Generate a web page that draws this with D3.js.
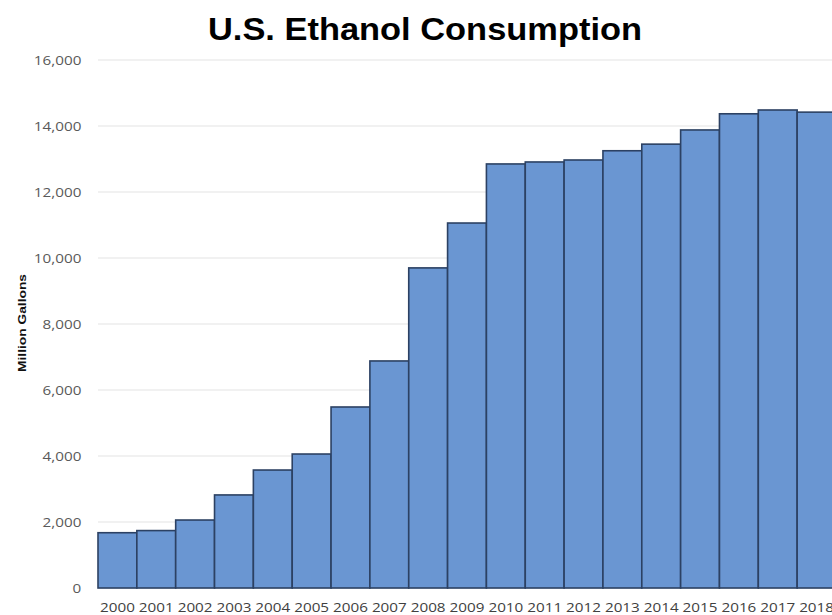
<!DOCTYPE html>
<html>
<head>
<meta charset="utf-8">
<script src="https://cdn.jsdelivr.net/npm/d3@7"></script>
<style>
  body { margin: 0; background: #fff; }
  svg { display: block; }
</style>
</head>
<body>
<div id="chart"></div>
<script>
// data
const years = ["2000", "2001", "2002", "2003", "2004", "2005", "2006", "2007", "2008", "2009",
  "2010", "2011", "2012", "2013", "2014", "2015", "2016", "2017", "2018"];
const consumption = [1675, 1740, 2060, 2820, 3575, 4060, 5485, 6880, 9700, 11060,
  12850, 12910, 12970, 13250, 13450, 13880, 14370, 14485, 14420];
const yTicks = [0, 2000, 4000, 6000, 8000, 10000, 12000, 14000, 16000];

const W = 832, H = 615;
const margin = { top: 60, right: -4, bottom: 27, left: 98 };
// the source picture is a little stretched sideways, so text is too
const stretch = 1.22;

const svg = d3.select("#chart").append("svg")
  .attr("width", W)
  .attr("height", H);

const x = d3.scaleBand()
  .domain(years)
  .range([margin.left, W - margin.right])
  .padding(0);

const y = d3.scaleLinear()
  .domain([0, 16000])
  .range([H - margin.bottom, margin.top]);

// gridlines
svg.append("g")
  .selectAll("line")
  .data(yTicks)
  .join("line")
    .attr("x1", margin.left)
    .attr("x2", W)
    .attr("y1", d => y(d))
    .attr("y2", d => y(d))
    .attr("stroke", "#e3e3e3")
    .attr("stroke-width", 1);

// y axis labels
const yAxis = svg.append("g")
  .attr("transform", `translate(${margin.left - 13},0)`)
  .call(d3.axisLeft(y).tickValues(yTicks).tickFormat(d3.format(",")).tickSize(0));
yAxis.select(".domain").remove();
yAxis.selectAll("text")
  .attr("transform", `scale(${stretch},1)`)
  .attr("font-family", "'Open Sans', 'Liberation Sans', sans-serif")
  .attr("font-size", 12.5)
  .attr("fill", "#595959");

// bars
svg.append("g")
  .selectAll("rect")
  .data(consumption)
  .join("rect")
    .attr("x", (d, i) => x(years[i]))
    .attr("y", d => y(d))
    .attr("width", x.bandwidth())
    .attr("height", d => y(0) - y(d))
    .attr("fill", "#6a96d2")
    .attr("stroke", "#2c4163")
    .attr("stroke-width", 1.6);

// x axis labels
const xAxis = svg.append("g")
  .attr("transform", `translate(0,${y(0) + 12})`)
  .call(d3.axisBottom(x).tickSize(0));
xAxis.select(".domain").remove();
xAxis.selectAll("text")
  .attr("transform", `scale(${stretch},1)`)
  .attr("font-family", "'Open Sans', 'Liberation Sans', sans-serif")
  .attr("font-size", 12.5)
  .attr("fill", "#404040");

// y axis title
svg.append("text")
  .attr("transform", `translate(26,323) rotate(-90)`)
  .attr("text-anchor", "middle")
  .attr("font-family", "'Liberation Sans', Arial, sans-serif")
  .attr("font-weight", "bold")
  .attr("font-size", 11)
  .attr("textLength", 98)
  .attr("lengthAdjust", "spacingAndGlyphs")
  .attr("fill", "#111")
  .text("Million Gallons");

// title
svg.append("text")
  .attr("x", 425)
  .attr("y", 40)
  .attr("text-anchor", "middle")
  .attr("font-family", "'Liberation Sans', Arial, sans-serif")
  .attr("font-weight", "bold")
  .attr("font-size", 32)
  .attr("textLength", 434)
  .attr("lengthAdjust", "spacingAndGlyphs")
  .attr("fill", "#000")
  .text("U.S. Ethanol Consumption");
</script>
</body>
</html>
